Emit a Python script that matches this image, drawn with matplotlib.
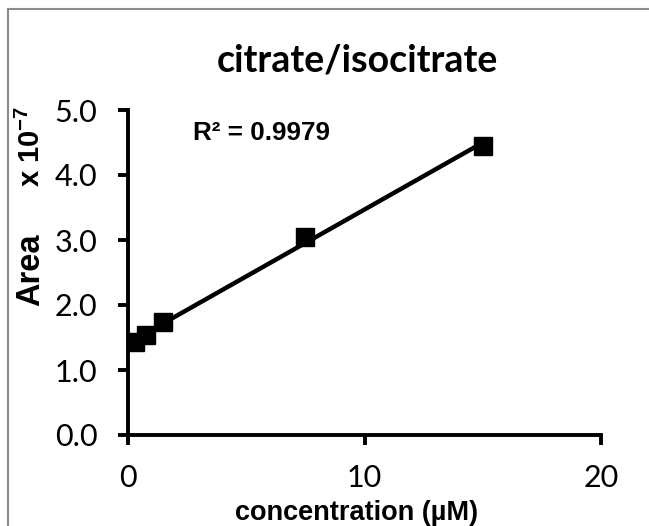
import matplotlib.pyplot as plt
from matplotlib.patches import Rectangle
import numpy as np

plt.rcParams['mathtext.fontset'] = 'custom'
plt.rcParams['mathtext.bf'] = 'Liberation Sans:bold'
plt.rcParams['mathtext.rm'] = 'Liberation Sans:bold'

# calibration data (area in units of 1e7)
conc = [0.3, 0.75, 1.5, 7.5, 15]
area = [1.43, 1.54, 1.74, 3.05, 4.45]
xticks = [0, 10, 20]
yticks = [0.0, 1.0, 2.0, 3.0, 4.0, 5.0]
r2_label = 'R² = 0.9979'

W, H = 649, 526
fig = plt.figure(figsize=(W / 100, H / 100), dpi=100)
ax = fig.add_axes([128 / W, 1 - 435 / H, (601 - 128) / W, (435 - 110) / H])

# gray outer frame (right/bottom edges fall outside the image)
fig.patches.append(Rectangle((8 / W, -0.1), 1.2, 1 - 9 / H + 0.1,
                             transform=fig.transFigure, fill=False,
                             edgecolor='#8c8c8c', lw=1.5))

# linear trendline over data range
m, b = np.polyfit(conc, area, 1)
xs = np.array([min(conc), max(conc)])
ax.plot(xs, m * xs + b, color='black', lw=3.2, solid_capstyle='butt', zorder=2)
ax.plot(conc, area, 's', color='black', ms=12.5, zorder=3)

ax.set_xlim(0, 20)
ax.set_ylim(0, 5)
ax.set_xticks(xticks)
ax.set_xticklabels([str(t) for t in xticks], fontsize=22, family='Lato')
ax.set_yticks(yticks)
ax.set_yticklabels(['%.1f' % t for t in yticks], fontsize=22, family='Lato')

for s in ['top', 'right']:
    ax.spines[s].set_visible(False)
for s in ['left', 'bottom']:
    ax.spines[s].set_linewidth(2.8)
ax.tick_params(direction='out', length=7, width=2.8)
ax.tick_params(axis='x', pad=14)
ax.tick_params(axis='y', pad=15)

fig.text(357 / W, 1 - 60 / H, 'citrate/isocitrate', ha='center', va='center',
         fontsize=27, fontweight='bold', family='Lato')
fig.text(31 / W, 1 - 270 / H, 'Area', rotation=90,
         ha='center', va='center', fontsize=23.5, fontweight='bold',
         family='Liberation Sans')
fig.text(31 / W, 1 - 146 / H, 'x 10$^{-7}$', rotation=90,
         ha='center', va='center', fontsize=21, fontweight='bold',
         family='Liberation Sans')
fig.text(357 / W, 1 - 513 / H, 'concentration (µM)', ha='center', va='center',
         fontsize=19.5, fontweight='bold', family='Liberation Sans')
ax.text(193 / W, 1 - 133 / H, r2_label, transform=fig.transFigure,
        ha='left', va='center', fontsize=18.8, fontweight='bold',
        family='Liberation Sans')

fig.savefig('out.png', dpi=100)
